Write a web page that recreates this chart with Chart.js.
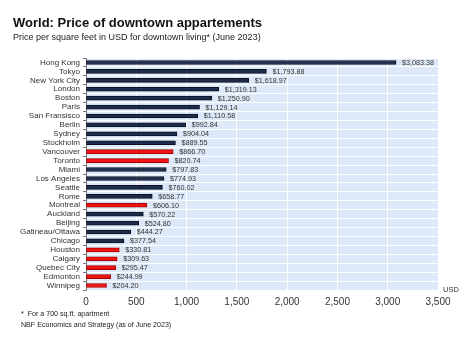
<!DOCTYPE html>
<html>
<head>
<meta charset="utf-8">
<script src="https://cdn.jsdelivr.net/npm/chart.js@4.4.0/dist/chart.umd.min.js"></script>
<style>
  html, body { margin: 0; padding: 0; background: #fff; }
  #wrap { width: 468px; height: 344px; position: relative; }
</style>
</head>
<body>
<div id="wrap"><canvas id="priceChart"></canvas></div>
<script>
const cities = ["Hong Kong", "Tokyo", "New York City", "London", "Boston", "Paris", "San Fransisco",
    "Berlin", "Sydney", "Stockholm", "Vancouver", "Toronto", "Miami", "Los Angeles", "Seattle", "Rome",
    "Montreal", "Auckland", "Beijing", "Gatineau/Ottawa", "Chicago", "Houston", "Calgary",
    "Quebec City", "Edmonton", "Winnipeg"];
const prices = [3083.38, 1793.88, 1618.97, 1319.13, 1250.90, 1129.14, 1110.58, 992.84, 904.04, 889.55,
    866.70, 820.74, 797.83, 774.93, 760.02, 658.77, 606.10, 570.22, 524.80, 444.27, 377.54, 330.81,
    309.63, 295.47, 244.99, 204.20];
const highlighted = ["Vancouver", "Toronto", "Montreal", "Houston", "Calgary", "Quebec City", "Edmonton", "Winnipeg"];
const xTicks = [0, 500, 1000, 1500, 2000, 2500, 3000, 3500];

const FONT = "'Liberation Sans', Arial, sans-serif";

const fillColors = cities.map(c => highlighted.includes(c) ? '#f01414' : '#1f2c4c');
const borderColors = cities.map(c => highlighted.includes(c) ? '#a80000' : '#0b1020');

function money(v) {
    return '$' + v.toLocaleString('en-US', { minimumFractionDigits: 2, maximumFractionDigits: 2 });
}

// light blue plot background
const plotBackground = {
    id: 'plotBackground',
    beforeDraw(chart) {
        const { ctx, chartArea } = chart;
        ctx.save();
        ctx.fillStyle = '#dde9f8';
        ctx.fillRect(chartArea.left, chartArea.top, chartArea.right - chartArea.left, chartArea.bottom - chartArea.top);
        ctx.restore();
    }
};

// titles, value labels, unit and notes
const textLayer = {
    id: 'textLayer',
    afterDatasetsDraw(chart) {
        const ctx = chart.ctx;
        ctx.save();
        ctx.textBaseline = 'alphabetic';
        ctx.textAlign = 'left';
        ctx.fillStyle = '#111';
        ctx.font = 'bold 13px ' + FONT;
        ctx.fillText('World: Price of downtown appartements', 13, 27);
        ctx.fillStyle = '#222';
        ctx.font = '9px ' + FONT;
        ctx.fillText('Price per square feet in USD for downtown living* (June 2023)', 13, 40);

        // value labels
        ctx.font = '7.2px ' + FONT;
        ctx.fillStyle = '#333';
        ctx.textBaseline = 'middle';
        const meta = chart.getDatasetMeta(0);
        meta.data.forEach((bar, i) => {
            ctx.fillText(money(prices[i]), bar.x + 6, bar.y + 0.5);
        });

        ctx.font = '7.5px ' + FONT;
        ctx.fillText('USD', 443, 290);

        ctx.textBaseline = 'alphabetic';
        ctx.font = '7.1px ' + FONT;
        ctx.fillStyle = '#222';
        ctx.fillText('*  For a 700 sq.ft. apartment', 21, 316);
        ctx.fillText('NBF Economics and Strategy (as of June 2023)', 21, 327);
        ctx.restore();
    }
};

const ctx = document.getElementById('priceChart').getContext('2d');
new Chart(ctx, {
    type: 'bar',
    data: {
        labels: cities,
        datasets: [{
            data: prices,
            backgroundColor: fillColors,
            borderColor: borderColors,
            borderWidth: 1,
            borderSkipped: false,
            barThickness: 4
        }]
    },
    options: {
        indexAxis: 'y',
        responsive: true,
        maintainAspectRatio: false,
        animation: false,
        layout: { padding: { top: 58, right: 30, bottom: 34, left: 0 } },
        plugins: {
            legend: { display: false },
            title: { display: false },
            tooltip: { enabled: false }
        },
        scales: {
            x: {
                min: 0,
                max: 3500,
                afterBuildTicks(axis) {
                    axis.ticks = xTicks.map(v => ({ value: v }));
                },
                afterFit(axis) { axis.height = 20; },
                grid: { color: '#ffffff', lineWidth: 1, drawTicks: false },
                border: { display: false },
                ticks: {
                    padding: 6,
                    color: '#333',
                    font: { family: FONT, size: 10 },
                    callback: v => v.toLocaleString('en-US')
                }
            },
            y: {
                afterFit(axis) { axis.width = 86; },
                grid: { color: '#ffffff', lineWidth: 1, offset: true, tickColor: '#777', tickLength: 3 },
                border: { display: true, color: '#777', width: 1 },
                ticks: {
                    padding: 3,
                    color: '#333',
                    autoSkip: false,
                    font: { family: FONT, size: 8 }
                }
            }
        }
    },
    plugins: [plotBackground, textLayer]
});
</script>
</body>
</html>
